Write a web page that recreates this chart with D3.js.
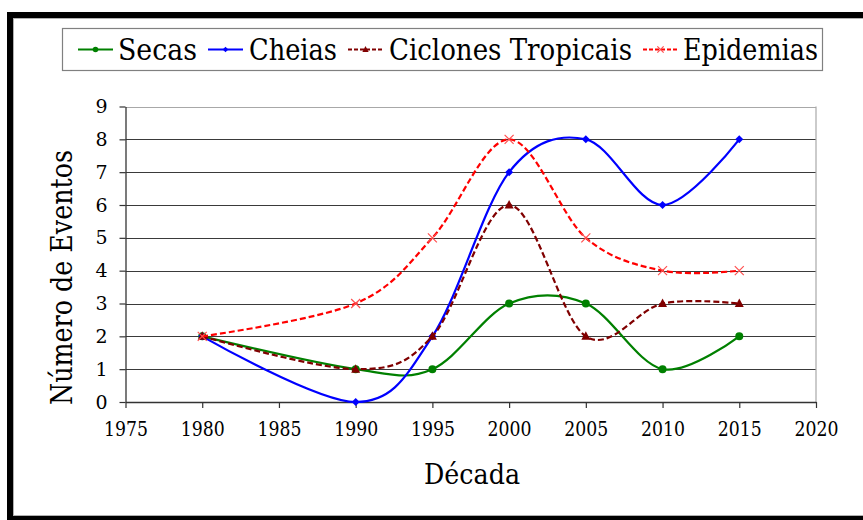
<!DOCTYPE html>
<html>
<head>
<meta charset="utf-8">
<script src="https://cdn.jsdelivr.net/npm/d3@7"></script>
<style>
  html, body { margin: 0; padding: 0; background: #fff; }
  svg { display: block; }
  text { font-family: "DejaVu Serif", "Liberation Serif", serif; fill: #000; }
</style>
</head>
<body>
<svg id="chart" width="863" height="520"></svg>
<script>
// Natural-disaster events per period
const decades   = [1980, 1990, 1995, 2000, 2005, 2010, 2015];
const secas     = [2, 1, 1, 3, 3, 1, 2];
const cheias    = [2, 0, 2, 7, 8, 6, 8];
const ciclones  = [2, 1, 2, 6, 2, 3, 3];
const epidemias = [2, 3, 5, 8, 5, 4, 4];
const seriesNames = ["Secas", "Cheias", "Ciclones Tropicais", "Epidemias"];
const xTicks = [1975, 1980, 1985, 1990, 1995, 2000, 2005, 2010, 2015, 2020];
const yTicks = [0, 1, 2, 3, 4, 5, 6, 7, 8, 9];
const xTitle = "Década";
const yTitle = "Número de Eventos";

const svg = d3.select("#chart");

// outer frame
svg.append("rect").attr("x", 10).attr("y", 15).attr("width", 900).attr("height", 504)
  .attr("fill", "none").attr("stroke", "#000").attr("stroke-width", 6);
svg.append("rect").attr("x", 13.5).attr("y", 18.5).attr("width", 900).attr("height", 497)
  .attr("fill", "none").attr("stroke", "#b0b0b0").attr("stroke-width", 1);

const x = d3.scaleLinear().domain([1975, 2020]).range([125.5, 816]);
const y = d3.scaleLinear().domain([0, 9]).range([402, 106.5]);

// horizontal gridlines
svg.append("g").selectAll("line").data(yTicks.filter(v => v > 0)).join("line")
  .attr("x1", x(1975)).attr("x2", x(2020))
  .attr("y1", d => Math.round(y(d)) + 0.5).attr("y2", d => Math.round(y(d)) + 0.5)
  .attr("stroke", d => d === 9 ? "#a8a8a8" : "#3a3a3a").attr("stroke-width", 1.2);
// plot-area right edge
svg.append("line").attr("x1", x(2020)).attr("x2", x(2020))
  .attr("y1", y(9)).attr("y2", y(0)).attr("stroke", "#a8a8a8").attr("stroke-width", 1.2);

// axes
const yAxis = svg.append("g").attr("transform", `translate(${x(1975)},0)`)
  .call(d3.axisLeft(y).tickValues(yTicks).tickSize(6).tickPadding(12).tickSizeOuter(0));
const xAxis = svg.append("g").attr("transform", `translate(0,${y(0)})`)
  .call(d3.axisBottom(x).tickValues(xTicks).tickFormat(d3.format("d")).tickSize(6).tickPadding(14).tickSizeOuter(0));
[yAxis, xAxis].forEach(g => {
  g.select(".domain").attr("stroke", "#333").attr("stroke-width", 1.3);
  g.selectAll(".tick line").attr("stroke", "#333").attr("stroke-width", 1.2);
  g.selectAll(".tick text").attr("font-family", "DejaVu Serif").attr("fill", "#000");
});
yAxis.selectAll(".tick text").attr("font-size", 19);
xAxis.selectAll(".tick text").attr("font-size", 20)
  .attr("textLength", 44).attr("lengthAdjust", "spacingAndGlyphs");

// axis titles
svg.append("text").attr("x", 472).attr("y", 484).attr("text-anchor", "middle")
  .attr("font-size", 28).attr("textLength", 96).attr("lengthAdjust", "spacingAndGlyphs").text(xTitle);
svg.append("text").attr("transform", "translate(72,277.5) rotate(-90)").attr("text-anchor", "middle")
  .attr("font-size", 30).attr("textLength", 255).attr("lengthAdjust", "spacingAndGlyphs").text(yTitle);

// series
const styles = [
  { values: secas,     color: "#008000", dash: null,  marker: "circle" },
  { values: cheias,    color: "#0000ff", dash: null,  marker: "diamond" },
  { values: ciclones,  color: "#800000", dash: "6,3", marker: "triangle" },
  { values: epidemias, color: "#ff0000", dash: "6,3", marker: "cross" }
];

const line = d3.line().x(d => x(d[0])).y(d => y(d[1])).curve(d3.curveCardinal.tension(0));

function drawMarker(g, kind, color, cx, cy, k) {
  if (kind === "circle") {
    g.append("circle").attr("cx", cx).attr("cy", cy).attr("r", 4 * k).attr("fill", color);
  } else if (kind === "diamond") {
    const a = 4 * k;
    g.append("path").attr("d", `M${cx},${cy - a}L${cx + a},${cy}L${cx},${cy + a}L${cx - a},${cy}Z`).attr("fill", color);
  } else if (kind === "triangle") {
    g.append("path").attr("d", `M${cx},${cy - 5 * k}L${cx + 4.5 * k},${cy + 3.5 * k}L${cx - 4.5 * k},${cy + 3.5 * k}Z`).attr("fill", color);
  } else {
    const a = 4.5 * k;
    g.append("path").attr("d", `M${cx - a},${cy - a}L${cx + a},${cy + a}M${cx - a},${cy + a}L${cx + a},${cy - a}`)
      .attr("stroke", "#ff5050").attr("stroke-width", 1.2).attr("fill", "none");
  }
}

styles.forEach(s => {
  const pts = decades.map((d, i) => [d, s.values[i]]);
  const g = svg.append("g");
  g.append("path").attr("d", line(pts)).attr("fill", "none")
    .attr("stroke", s.color).attr("stroke-width", 2.2)
    .attr("stroke-dasharray", s.dash);
  pts.forEach(p => drawMarker(g, s.marker, s.color, x(p[0]), y(p[1]), 1));
});

// legend
const legend = svg.append("g");
legend.append("rect").attr("x", 62.5).attr("y", 28.5).attr("width", 760).attr("height", 42)
  .attr("fill", "#fff").attr("stroke", "#808080").attr("stroke-width", 1.2);
const legendItems = [
  { lx: 78, tx: 118, tw: 79 },
  { lx: 208, tx: 249, tw: 88 },
  { lx: 348, tx: 389, tw: 243 },
  { lx: 643, tx: 683, tw: 135 }
];
legendItems.forEach((it, i) => {
  const s = styles[i];
  const ly = 49.5;
  legend.append("line").attr("x1", it.lx).attr("x2", it.lx + 35).attr("y1", ly).attr("y2", ly)
    .attr("stroke", s.color).attr("stroke-width", 2).attr("stroke-dasharray", s.dash ? "4,2" : null);
  drawMarker(legend, s.marker, s.color, it.lx + 17.5, ly, 0.7);
  legend.append("text").attr("x", it.tx).attr("y", 60).attr("font-size", 29)
    .attr("textLength", it.tw).attr("lengthAdjust", "spacingAndGlyphs").text(seriesNames[i]);
});
</script>
</body>
</html>
